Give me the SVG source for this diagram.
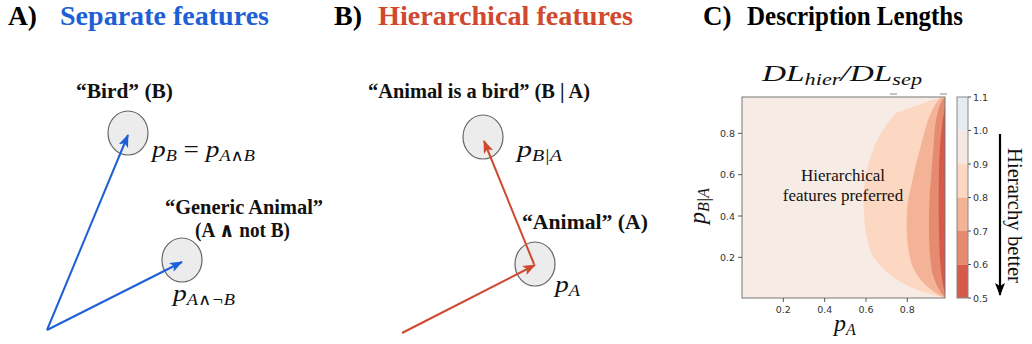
<svg xmlns="http://www.w3.org/2000/svg" width="1032" height="344" viewBox="0 0 1032 344">
<style>
.title{font-family:"Liberation Serif",serif;font-weight:bold;font-size:27px;fill:#000}
.lbl{font-family:"Liberation Serif","DejaVu Serif",serif;font-weight:bold;font-size:20px;fill:#111}
.m{font-family:"Liberation Serif","DejaVu Serif",serif;font-style:italic;font-size:24px;fill:#111}
.sub{font-size:16px}
.node{fill:#ececec;stroke:#666;stroke-width:1.2}
.tick{font-family:"DejaVu Sans",sans-serif;font-size:9.5px;fill:#333}
.ser{font-family:"Liberation Serif",serif;fill:#111}
</style>
<defs>
<marker id="ab" markerUnits="userSpaceOnUse" markerWidth="14" markerHeight="10" refX="12" refY="5" orient="auto">
<path d="M0,0 L13,5 L0,10 L3,5 z" fill="#1f5fd6"/>
</marker>
<marker id="ar" markerUnits="userSpaceOnUse" markerWidth="14" markerHeight="10" refX="12" refY="5" orient="auto">
<path d="M0,0 L13,5 L0,10 L3,5 z" fill="#d0492e"/>
</marker>
<marker id="ak" markerUnits="userSpaceOnUse" markerWidth="14" markerHeight="10" refX="12" refY="5" orient="auto">
<path d="M0,0 L13,5 L0,10 L3,5 z" fill="#000"/>
</marker>
</defs>

<!-- Titles -->
<g id="titles">
<text class="title" x="8" y="25" textLength="29" lengthAdjust="spacingAndGlyphs">A)</text>
<text class="title" x="60" y="25" style="fill:#1f5fd6" textLength="209" lengthAdjust="spacingAndGlyphs">Separate features</text>
<text class="title" x="334" y="25" textLength="28" lengthAdjust="spacingAndGlyphs">B)</text>
<text class="title" x="378" y="25" style="fill:#d0492e" textLength="255" lengthAdjust="spacingAndGlyphs">Hierarchical features</text>
<text class="title" x="703" y="25">C)</text>
<text class="title" x="747" y="25" textLength="216" lengthAdjust="spacingAndGlyphs">Description Lengths</text>
</g>

<!-- Panel A nodes -->
<g id="nodeBird">
<ellipse class="node" cx="128" cy="133" rx="20" ry="22"/>
<text class="lbl" x="76" y="98" textLength="97" lengthAdjust="spacingAndGlyphs">“Bird” (B)</text>
<text class="m" x="152" y="157" textLength="103" lengthAdjust="spacingAndGlyphs">p<tspan class="sub" dy="4">B</tspan><tspan dy="-4" font-style="normal"> = </tspan>p<tspan class="sub" dy="4">A∧B</tspan></text>
</g>
<g id="nodeGeneric">
<ellipse class="node" cx="182" cy="260" rx="20" ry="22"/>
<text class="lbl" x="165" y="214" textLength="158" lengthAdjust="spacingAndGlyphs">“Generic Animal”</text>
<text class="lbl" x="195" y="237" textLength="95" lengthAdjust="spacingAndGlyphs">(A ∧ not B)</text>
<text class="m" x="173" y="301" textLength="62" lengthAdjust="spacingAndGlyphs">p<tspan class="sub" dy="4">A∧¬B</tspan></text>
</g>

<!-- Panel B nodes -->
<g id="nodeBirdGivenA">
<ellipse class="node" cx="483" cy="137" rx="20" ry="22"/>
<text class="lbl" x="368" y="98" textLength="222" lengthAdjust="spacingAndGlyphs">“Animal is a bird” (B | A)</text>
<text class="m" x="517" y="157" textLength="45" lengthAdjust="spacingAndGlyphs">p<tspan class="sub" dy="4">B|A</tspan></text>
</g>
<g id="nodeAnimal">
<ellipse class="node" cx="535" cy="264" rx="20" ry="22"/>
<text class="lbl" x="522" y="229" textLength="126" lengthAdjust="spacingAndGlyphs">“Animal” (A)</text>
<text class="m" x="555" y="292" textLength="25" lengthAdjust="spacingAndGlyphs">p<tspan class="sub" dy="4">A</tspan></text>
</g>

<!-- Connectors -->
<g id="connectors" fill="none" stroke-width="2">
<line x1="47" y1="330" x2="128" y2="135" stroke="#1f5fd6" marker-end="url(#ab)"/>
<line x1="47" y1="330" x2="182" y2="262" stroke="#1f5fd6" marker-end="url(#ab)"/>
<line x1="402" y1="333" x2="535" y2="265" stroke="#d0492e" marker-end="url(#ar)"/>
<line x1="534" y1="264" x2="484" y2="141" stroke="#d0492e" marker-end="url(#ar)"/>
</g>

<!-- Panel C plot -->
<g id="plot">
<text class="m" x="762" y="81" font-size="22" textLength="160" lengthAdjust="spacingAndGlyphs">DL<tspan class="sub" dy="4">hier</tspan><tspan dy="-4">/DL</tspan><tspan class="sub" dy="4">sep</tspan></text>
<rect x="742" y="97" width="203" height="201" fill="#f6ebe5"/>
<path d="M945,97 L932,100 L896,113 Q870,140 864,187 Q862,232 872,255 Q892,287 945,298 Z" fill="#fcd8c2"/>
<path d="M945,97 L940,98 Q930,110 925,130 Q915,165 908,200 Q904,240 912,265 Q921,287 945,298 Z" fill="#f4b396"/>
<path d="M945,98 L942,100 Q935,115 934,140 L930,190 Q927,240 932,272 Q937,290 945,297 Z" fill="#e68b6f"/>
<path d="M945,108 Q940,130 939,170 Q938,220 940,260 Q942,285 945,292 Z" fill="#d6594a"/>
<rect x="742" y="97" width="203" height="201" fill="none" stroke="#777" stroke-width="1"/>
<line x1="890" y1="94" x2="897" y2="94" stroke="#888"/>
<line x1="940" y1="94" x2="947" y2="94" stroke="#888"/>
<g stroke="#555" stroke-width="1">
<line x1="738" y1="133.3" x2="742" y2="133.3"/>
<line x1="738" y1="174.7" x2="742" y2="174.7"/>
<line x1="738" y1="216" x2="742" y2="216"/>
<line x1="738" y1="257.3" x2="742" y2="257.3"/>
<line x1="783.3" y1="298" x2="783.3" y2="302"/>
<line x1="824.7" y1="298" x2="824.7" y2="302"/>
<line x1="866" y1="298" x2="866" y2="302"/>
<line x1="907.3" y1="298" x2="907.3" y2="302"/>
</g>
<g class="tick" text-anchor="end">
<text x="735" y="137">0.8</text>
<text x="735" y="178">0.6</text>
<text x="735" y="219.5">0.4</text>
<text x="735" y="261">0.2</text>
</g>
<g class="tick" text-anchor="middle">
<text x="783.3" y="313">0.2</text>
<text x="824.7" y="313">0.4</text>
<text x="866" y="313">0.6</text>
<text x="907.3" y="313">0.8</text>
</g>
<text class="ser" x="843" y="181" font-size="17" text-anchor="middle">Hierarchical</text>
<text class="ser" x="843" y="201" font-size="17" text-anchor="middle">features preferred</text>
<text class="m" x="834" y="331" font-size="29">p<tspan class="sub" font-size="19" dy="4">A</tspan></text>
<text class="m" transform="translate(705,206) rotate(-90)" text-anchor="middle" font-size="27">p<tspan class="sub" font-size="18" dy="4">B|A</tspan></text>
</g>

<!-- Colorbar -->
<g id="colorbar">
<rect x="957" y="97" width="11" height="33.5" fill="#e4ecf2"/>
<rect x="957" y="130.5" width="11" height="33.5" fill="#f5e8e2"/>
<rect x="957" y="164" width="11" height="33.5" fill="#fcd8c2"/>
<rect x="957" y="197.5" width="11" height="33.5" fill="#f4b396"/>
<rect x="957" y="231" width="11" height="33.5" fill="#e68b6f"/>
<rect x="957" y="264.5" width="11" height="33.5" fill="#d6594a"/>
<rect x="957" y="97" width="11" height="201" fill="none" stroke="#888" stroke-width="1"/>
<g stroke="#555" stroke-width="1">
<line x1="968" y1="97" x2="971" y2="97"/>
<line x1="968" y1="130.5" x2="971" y2="130.5"/>
<line x1="968" y1="164" x2="971" y2="164"/>
<line x1="968" y1="197.5" x2="971" y2="197.5"/>
<line x1="968" y1="231" x2="971" y2="231"/>
<line x1="968" y1="264.5" x2="971" y2="264.5"/>
<line x1="968" y1="298" x2="971" y2="298"/>
</g>
<g class="tick">
<text x="973" y="100.5">1.1</text>
<text x="973" y="134">1.0</text>
<text x="973" y="167.5">0.9</text>
<text x="973" y="201">0.8</text>
<text x="973" y="234.5">0.7</text>
<text x="973" y="268">0.6</text>
<text x="973" y="301.5">0.5</text>
</g>
</g>

<g id="hierarchyArrow">
<line x1="1000" y1="134" x2="1000" y2="295" stroke="#000" stroke-width="2.2" marker-end="url(#ak)"/>
<text class="ser" transform="translate(1008,148) rotate(90)" font-size="21" textLength="135" lengthAdjust="spacingAndGlyphs">Hierarchy better</text>
</g>
</svg>
